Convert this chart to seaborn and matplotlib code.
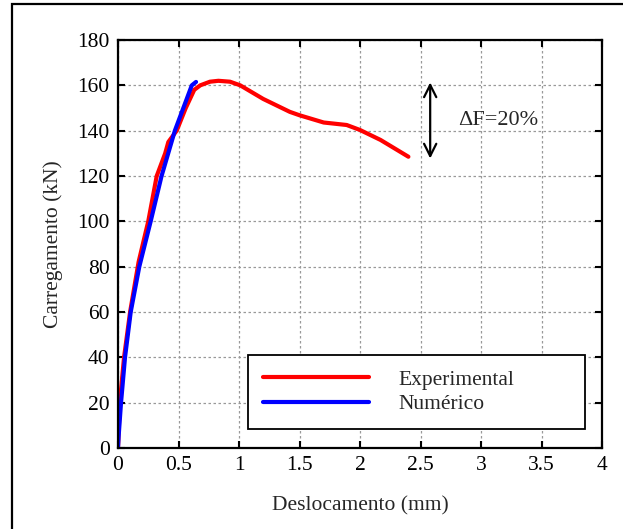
import numpy as np
import pandas as pd
import seaborn as sns
import matplotlib.pyplot as plt
import matplotlib.patches as patches

# curva experimental (vermelha)
exp_x = [0.0, 0.015, 0.05, 0.10, 0.17, 0.25, 0.32, 0.39, 0.416, 0.485, 0.56, 0.63,
         0.68, 0.76, 0.83, 0.926, 1.01, 1.2, 1.42, 1.5, 1.7, 1.89, 2.0, 2.17, 2.4]
exp_y = [0.0, 20, 40, 60, 82, 100, 120, 130, 135, 140, 150, 158,
         160, 161.6, 162, 161.6, 160, 154, 148.3, 146.8, 143.6, 142.5, 140.3, 135.9, 128.5]

# curva numerica (azul)
num_x = [0.0, 0.005, 0.025, 0.058, 0.105, 0.176, 0.27, 0.36, 0.47, 0.61, 0.645]
num_y = [0.0, 5, 20, 40, 60, 80, 100, 120, 140, 160, 161.5]

labels = ["Experimental", "Numérico"]
cores = ["#ff0000", "#0000ff"]

df = pd.concat([
    pd.DataFrame({"x": exp_x, "y": exp_y, "serie": labels[0]}),
    pd.DataFrame({"x": num_x, "y": num_y, "serie": labels[1]}),
])

sns.set_style("ticks")
plt.rcParams["font.family"] = ["Liberation Serif", "DejaVu Serif"]

fig = plt.figure(figsize=(6.23, 5.29), dpi=100)
ax = fig.add_axes([118 / 623, 81 / 529, 484 / 623, 408 / 529])

sns.lineplot(data=df, x="x", y="y", hue="serie", hue_order=labels,
             palette=cores, estimator=None, sort=False, linewidth=3.0, ax=ax)
for ln in ax.get_lines():
    ln.set_solid_joinstyle("round")
    ln.set_solid_capstyle("round")

ax.set_xlim(0, 4)
ax.set_ylim(0, 180)
ax.set_xticks(np.arange(0, 4.01, 0.5))
ax.set_xticklabels(["0", "0.5", "1", "1.5", "2", "2.5", "3", "3.5", "4"])
ax.set_yticks(np.arange(0, 181, 20))
ax.grid(True, color="#999999", linestyle=(0, (2, 2)), linewidth=0.9)
ax.tick_params(direction="in", top=True, right=True, length=5, width=1.5,
               labelsize=15.5, pad=6, colors="black")
for s in ax.spines.values():
    s.set_linewidth(1.6)
    s.set_color("black")

ax.set_xlabel("Deslocamento (mm)", fontsize=15.5, labelpad=15)
ax.set_ylabel("Carregamento (kN)", fontsize=15.5, labelpad=10)

# seta dupla e texto
ax.annotate("", xy=(2.58, 162.5), xytext=(2.58, 126.5),
            arrowprops=dict(arrowstyle="<->", color="black", lw=1.6,
                            mutation_scale=22))
ax.text(3.14, 144.7, "ΔF=20%", fontsize=16, ha="center", va="center")

leg = ax.legend(loc="lower left", bbox_to_anchor=(0.2686, 0.046, 0.6964, 0.18),
                mode="expand", fontsize=15.5, frameon=True, fancybox=False,
                handlelength=4.9, handletextpad=1.4, labelspacing=0.2,
                borderpad=0.7, borderaxespad=0)
leg.get_frame().set_edgecolor("black")
leg.get_frame().set_linewidth(1.3)
leg.get_frame().set_alpha(1)
for line in leg.get_lines():
    line.set_linewidth(3.0)

# moldura da figura
fig.patches.append(patches.Rectangle((12 / 623, -0.1), 1.2, 1.1 - 4 / 529,
                                     transform=fig.transFigure, fill=False,
                                     edgecolor="black", linewidth=1.6))

fig.savefig("out.png", dpi=100)
